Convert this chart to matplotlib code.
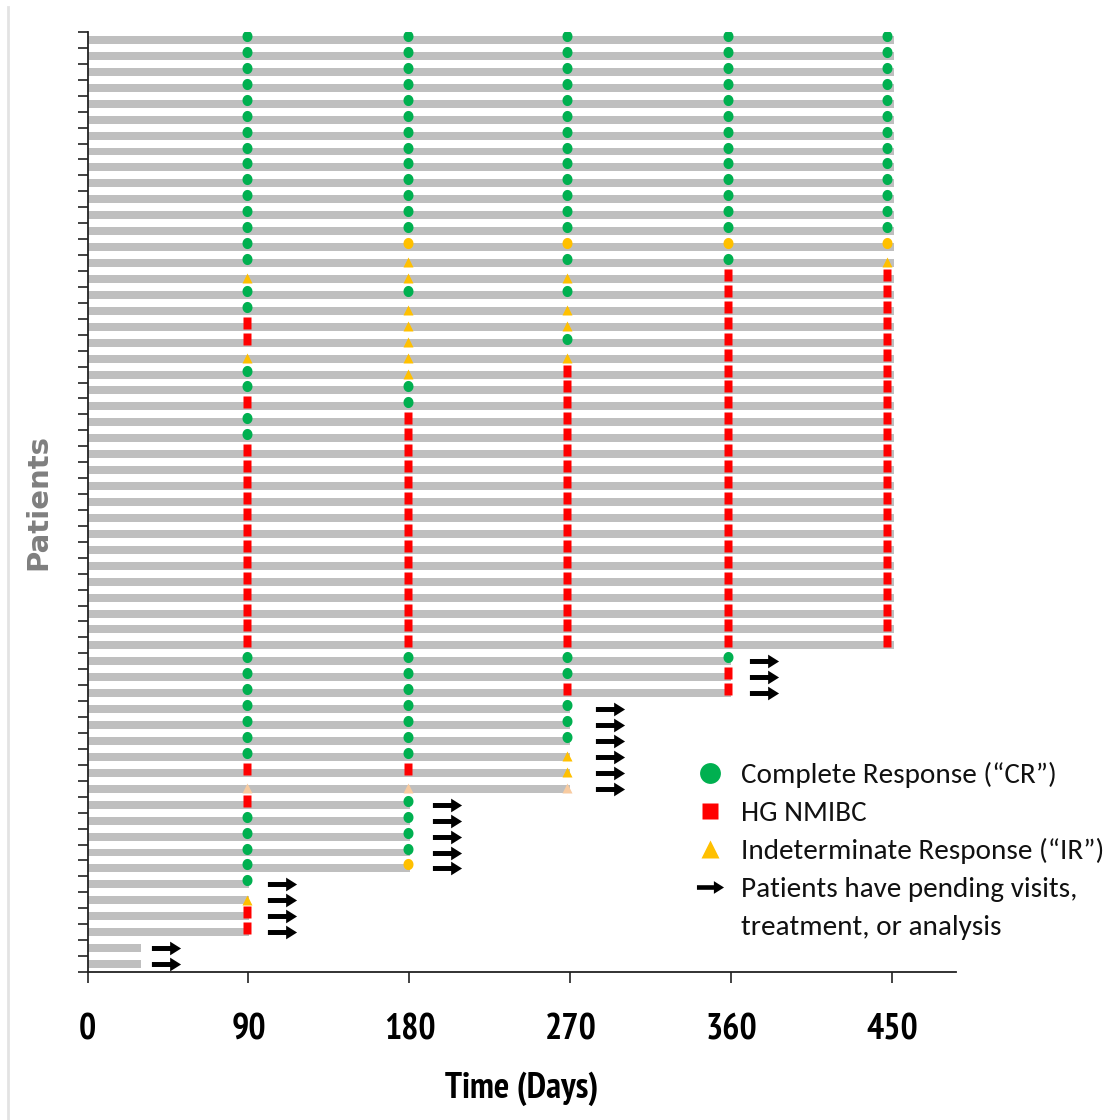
import matplotlib
matplotlib.use("Agg")
import matplotlib.pyplot as plt
import numpy as np
from matplotlib.lines import Line2D
from matplotlib.path import Path

# visit days and the response at each visit
VISIT_DAYS = [89, 179, 268, 358, 447]
# C = complete response, H = HG NMIBC, I = indeterminate response,
# O = indeterminate (circle), P = indeterminate (pale)
RESPONSES = (
    ["CCCCC"] * 13
    + ["COOOO", "CICCI", "IIIHH", "CCCHH", "CIIHH", "HIIHH", "HICHH",
       "IIIHH", "CIHHH", "CCHHH", "HCHHH", "CHHHH", "CHHHH"]
    + ["HHHHH"] * 13
    + ["CCCC", "CCCH", "CCHH"]
    + ["CCC", "CCC", "CCC", "CCI", "HHI", "PPP"]
    + ["HC", "CC", "CC", "CC", "CO"]
    + ["C", "I", "H", "H"]
    + ["", ""]
)
FOLLOW_UP = [451] * 39 + [360] * 3 + [270] * 6 + [180.5] * 5 + [90.5] * 4 + [30] * 2
# day where the "pending" arrow sits (None = no pending visit)
PENDING_DAY = [None] * 39 + [378] * 3 + [292] * 6 + [201] * 5 + [109] * 4 + [44] * 2

X_TICKS = [0, 90, 180, 270, 360, 450]

COLORS = {"C": "#00b050", "H": "#ff0000", "I": "#ffc000", "O": "#ffc000", "P": "#f8cba0"}
BAR_COLOR = "#bfbfbf"

t = np.linspace(0, 2 * np.pi, 40)
ELLIPSE = Path(np.column_stack([0.9 * np.cos(t), np.sin(t)]), closed=True)
RECT = Path([(-0.8, -1), (0.8, -1), (0.8, 1), (-0.8, 1), (-0.8, -1)], closed=True)
ARROW = Path([(-1, -0.17), (0.25, -0.17), (0.25, -0.47), (1, 0), (0.25, 0.47),
              (0.25, 0.17), (-1, 0.17), (-1, -0.17)], closed=True)
MARKERS = {"C": (ELLIPSE, -0.25, 8), "O": (ELLIPSE, -0.25, 8), "H": (RECT, -0.25, 8),
           "I": ("^", -0.05, 7.5), "P": ("^", -0.05, 7.5)}

NARROW = ["PT Sans Narrow", "Carlito", "DejaVu Sans"]
LEGEND_FONT = ["Carlito", "Lato", "DejaVu Sans"]

fig = plt.figure(figsize=(11.09, 11.2), dpi=100)
ax = fig.add_axes([87.5 / 1109, 148 / 1120, 868.5 / 1109, 940 / 1120])

n = len(RESPONSES)
rows = np.arange(n)
ax.barh(rows, FOLLOW_UP, height=0.5, color=BAR_COLOR, zorder=1)

for code, (marker, dy, size) in MARKERS.items():
    xs, ys = [], []
    for r, resp in enumerate(RESPONSES):
        for k, c in enumerate(resp):
            if c == code:
                xs.append(VISIT_DAYS[k])
                ys.append(r + dy)
    ax.plot(xs, ys, ls="none", marker=marker, ms=size, color=COLORS[code],
            mec="none", zorder=3)

px = [d for d in PENDING_DAY if d is not None]
py = [r for r in rows if PENDING_DAY[r] is not None]
ax.plot(px, py, ls="none", marker=ARROW, ms=21, color="black", mec="none", zorder=3)

ax.set_xlim(0, 485.5)
ax.set_ylim(n - 0.5, -0.5)
ax.set_yticks(np.arange(-0.5, n + 0.5, 1))
ax.set_yticklabels([])
ax.set_xticks(X_TICKS)
ax.set_xticklabels([str(v) for v in X_TICKS], family=NARROW, fontweight="bold", fontsize=26)
ax.tick_params(axis="y", length=7, width=1.2, color="#222222")
ax.tick_params(axis="x", length=8, width=1.2, color="#222222", pad=22)
for s in ["top", "right"]:
    ax.spines[s].set_visible(False)
for s in ["left", "bottom"]:
    ax.spines[s].set_linewidth(1.3)
    ax.spines[s].set_color("#222222")

ax.set_xlabel("Time (Days)", family=NARROW, fontweight="bold", fontsize=26, labelpad=18)
ax.set_ylabel("Patients", family="DejaVu Sans", fontweight="bold", fontsize=21,
              color="#7f7f7f", labelpad=15)

handles = [
    Line2D([], [], ls="none", marker="o", ms=15, color=COLORS["C"], mec="none"),
    Line2D([], [], ls="none", marker="s", ms=12, color=COLORS["H"], mec="none"),
    Line2D([], [], ls="none", marker="^", ms=13, color=COLORS["I"], mec="none"),
    Line2D([], [], ls="none", marker=ARROW, ms=19.5, color="black", mec="none"),
    Line2D([], [], ls="none"),
]
labels = ["Complete Response (\u201cCR\u201d)", "HG NMIBC", "Indeterminate Response (\u201cIR\u201d)",
          "Patients have pending visits,", "treatment, or analysis"]
leg = fig.legend(handles, labels, loc="upper left", bbox_to_anchor=(669 / 1109, 1 - 736 / 1120),
                 frameon=False, handlelength=1.0, handletextpad=0.56, labelspacing=0.42,
                 prop={"family": LEGEND_FONT, "size": 21})
for txt in leg.get_texts():
    txt.set_color("#111111")

fig.add_artist(Line2D([8 / 1109, 8 / 1109], [0, 1 - 7 / 1120], transform=fig.transFigure,
                      color="#e3e3e3", lw=2))

fig.savefig("out.png", dpi=100)
